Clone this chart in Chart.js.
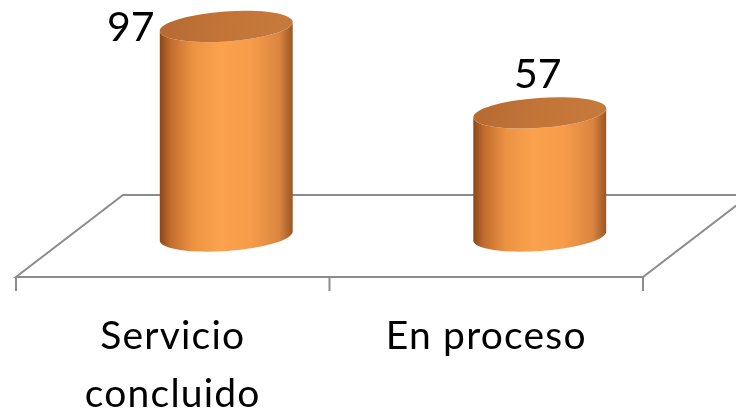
<!DOCTYPE html>
<html>
<head>
<meta charset="utf-8">
<script src="https://cdn.jsdelivr.net/npm/chart.js@4/dist/chart.umd.min.js"></script>
<style>
  body { margin: 0; background: #fff; }
</style>
</head>
<body>
<canvas id="myChart" width="736" height="418"></canvas>
<script>
// data
const categories = [['Servicio', 'concluido'], 'En proceso'];
const values = [97, 57];
const yMax = 100;

// 3d look
const depthX = 107;
const depthY = 82;
const ellipseRy = 15;
const tilt = -0.07;
const catFont = '39px Lato';
const valueFont = '41px Lato';

// floor + ticks, under the bars
const floorPlugin = {
  id: 'floor',
  beforeDatasetsDraw(chart) {
    const ctx = chart.ctx;
    const a = chart.chartArea;
    const x = chart.scales.x;
    const frontY = a.bottom + depthY / 2;
    const backY = a.bottom - depthY / 2;
    ctx.save();
    ctx.strokeStyle = '#8c8c8c';
    ctx.lineWidth = 2;
    ctx.beginPath();
    ctx.moveTo(a.left, frontY);
    ctx.lineTo(a.right, frontY);
    ctx.lineTo(a.right + depthX, backY);
    ctx.lineTo(a.left + depthX, backY);
    ctx.closePath();
    ctx.stroke();
    // tick marks on the category boundaries
    const step = x.getPixelForValue(1) - x.getPixelForValue(0);
    ctx.beginPath();
    for (let i = 0; i <= categories.length; i++) {
      const tx = x.getPixelForValue(0) - step / 2 + i * step;
      ctx.moveTo(tx, frontY);
      ctx.lineTo(tx, frontY + 14);
    }
    ctx.stroke();
    ctx.restore();
  }
};

// draws every bar as a cylinder, then the labels
const cylinderPlugin = {
  id: 'cylinders',
  afterDatasetsDraw(chart) {
    const ctx = chart.ctx;
    const meta = chart.getDatasetMeta(0);
    ctx.save();
    meta.data.forEach((bar, i) => {
      const cx = bar.x + depthX / 2;
      const rx = bar.width / 2;
      const topY = bar.y;
      const baseY = bar.base;
      const ex = rx * Math.cos(tilt);
      const ey = rx * Math.sin(tilt);

      const g = ctx.createLinearGradient(cx - rx, 0, cx + rx, 0);
      g.addColorStop(0, '#8a4719');
      g.addColorStop(0.08, '#c06c2d');
      g.addColorStop(0.25, '#ec9343');
      g.addColorStop(0.45, '#fba24e');
      g.addColorStop(0.68, '#f79c4a');
      g.addColorStop(0.9, '#d98440');
      g.addColorStop(1, '#9a5522');

      ctx.beginPath();
      ctx.moveTo(cx - ex, topY - ey);
      ctx.lineTo(cx - ex, baseY - ey);
      ctx.ellipse(cx, baseY, rx, ellipseRy, tilt, Math.PI, 0, true);
      ctx.lineTo(cx + ex, topY + ey);
      ctx.ellipse(cx, topY, rx, ellipseRy, tilt, 0, Math.PI, false);
      ctx.closePath();
      ctx.fillStyle = g;
      ctx.fill();

      const tg = ctx.createLinearGradient(cx - rx, topY - ellipseRy, cx + rx, topY + ellipseRy);
      tg.addColorStop(0, '#b56a33');
      tg.addColorStop(0.5, '#c37538');
      tg.addColorStop(1, '#c67a3c');
      ctx.beginPath();
      ctx.ellipse(cx, topY, rx, ellipseRy, tilt, 0, Math.PI * 2);
      ctx.fillStyle = tg;
      ctx.fill();

      // value label: above the top, or beside it when there is no room
      ctx.fillStyle = '#000';
      ctx.font = valueFont;
      ctx.textBaseline = 'alphabetic';
      let lx = cx - 2;
      let ly = topY - 25;
      ctx.textAlign = 'center';
      if (ly - 30 < 0) {
        lx = cx - rx - 5;
        ly = topY + 15;
        ctx.textAlign = 'right';
      }
      ctx.fillText(String(values[i]), lx, ly);
    });

    // category labels
    const x = chart.scales.x;
    const a = chart.chartArea;
    ctx.fillStyle = '#000';
    ctx.font = catFont;
    ctx.letterSpacing = '1.2px';
    ctx.textAlign = 'center';
    ctx.textBaseline = 'alphabetic';
    categories.forEach((c, i) => {
      const lines = Array.isArray(c) ? c : [c];
      lines.forEach((t, j) => {
        ctx.fillText(t, x.getPixelForValue(i), a.bottom + 113 + j * 58);
      });
    });
    ctx.restore();
  }
};

const data = {
  labels: categories,
  datasets: [{
    data: values,
    backgroundColor: 'rgba(0,0,0,0)',
    barPercentage: 1,
    categoryPercentage: 0.425
  }]
};

const config = {
  type: 'bar',
  data: data,
  options: {
    responsive: false,
    animation: false,
    devicePixelRatio: 1,
    layout: { padding: { left: 16, right: 93, top: 20, bottom: 182 } },
    plugins: { legend: { display: false }, tooltip: { enabled: false } },
    scales: {
      x: { display: false },
      y: { display: false, min: 0, max: yMax }
    }
  },
  plugins: [floorPlugin, cylinderPlugin]
};

const myChart = new Chart(document.getElementById('myChart'), config);
</script>
</body>
</html>
